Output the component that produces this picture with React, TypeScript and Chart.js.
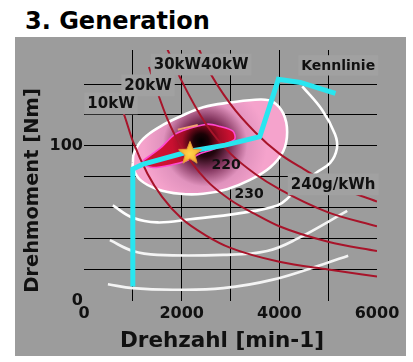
import { useEffect, useRef } from 'react';
import { Chart, registerables } from 'chart.js';

Chart.register(...registerables);

// ---------- data (speed n [min-1], torque T [Nm]) ----------
const xTickLabels = [0, 2000, 4000, 6000];
const yTickLabels = [0, 100];

// Kennlinie (operating line)
const kennN = [1000, 1000, 1200, 2170, 2890, 3600, 3980, 4430, 5150];
const kennT = [9, 85, 88, 96.5, 100.5, 106, 143, 141, 134];

// optimum point (star)
const optN = [2170];
const optT = [95.5];

// 220 g/kWh island
const isl220N = [1210, 1560, 1820, 2030, 2520, 2790, 3050, 3090, 2930, 2580, 2380, 2110, 1760, 1410, 1210, 1210];
const isl220T = [90.5, 98.5, 106.5, 110, 114, 112.5, 109.5, 104.5, 101.5, 97, 95, 90.5, 87.5, 86, 88, 90.5];

// orange edge on the 220 island
const edgeN = [1920, 2330];
const edgeT = [110.5, 113.5];

// 230 g/kWh island
const isl230N = [1000, 1025, 1210, 1560, 1970, 2440, 2990, 3610, 3870, 4080, 4160, 4080, 3810, 3400, 2930, 2440, 1970, 1500, 1150, 1000, 1000];
const isl230T = [89, 95.5, 104.5, 112.5, 119, 125, 128, 130, 128.5, 121, 109, 96.5, 86, 78, 72, 69, 69, 72, 78, 86, 89];

// 240 g/kWh contour
const c240N = [4470, 4880, 5140, 5180, 5040, 4730, 4220, 3960, 3200, 2170, 1500, 1000, 590];
const c240T = [138.5, 123, 107.5, 98.5, 89, 82, 67.5, 61.5, 56.5, 52.5, 50.5, 53.5, 61.5];

// further contours
const c250N = [530, 1000, 1500, 2850, 3750, 4370, 5390];
const c250T = [39, 32, 29.5, 29.5, 32, 40, 58];
const c260N = [490, 1000, 1820, 2850, 3870, 4900, 5410];
const c260T = [10.5, 8, 7, 8, 13.5, 23.5, 29];

// constant power lines
const p10N = [700, 800, 1000, 1300, 1600, 2000, 2500, 3000, 4000, 5000, 6000];
const p10T = [128, 122, 103, 82, 67, 53, 42, 34, 25, 20, 15.5];
const p20N = [1330, 1500, 1700, 2000, 2500, 3000, 3500, 4000, 5000, 6000];
const p20T = [151, 135, 118, 99, 78, 65, 56, 48, 38, 32];
const p30N = [1700, 2000, 2500, 3000, 3500, 4000, 5000, 6000];
const p30T = [163, 142, 114, 95, 82, 72, 57, 48];
const p40N = [2350, 2500, 3000, 3500, 4000, 4500, 5000, 6000];
const p40T = [163, 152, 127, 109, 95, 85, 76, 64];

// map labels: text, speed, torque, boxed
const mapLabelText = ['10kW', '20kW', '30kW40kW', 'Kennlinie', '220', '230', '240g/kWh'];
const mapLabelN = [553, 1311, 2398, 5205, 2910, 3381, 5102];
const mapLabelT = [127.7, 139.4, 152.9, 152.3, 88.3, 69.2, 75.4];
const mapLabelBox = [true, true, true, true, false, false, true];
const mapLabelSize = [15, 15, 15, 14, 14, 14, 15];

// ---------- styles ----------
const GRAY = '#9c9c9c';
const BOX = '#a1a1a1';
const RED = '#a8142a';
const CYAN = '#28e6f0';
const PINK = '#f5a3cc';
const CRIMSON = '#cf1232';
const FONT = '"DejaVu Sans", Verdana, sans-serif';
const TEXT = '#111';

const pts = (ns: number[], ts: number[]) => ns.map((n, i) => ({ x: n, y: ts[i] }));

function makeStar(): HTMLCanvasElement {
  const c = document.createElement('canvas');
  c.width = 26;
  c.height = 26;
  const g = c.getContext('2d')!;
  g.beginPath();
  for (let i = 0; i < 10; i++) {
    const r = i % 2 === 0 ? 12 : 5.2;
    const a = -Math.PI / 2 + (i * Math.PI) / 5;
    g.lineTo(13 + r * Math.cos(a), 13.5 + r * Math.sin(a));
  }
  g.closePath();
  const grad = g.createRadialGradient(13, 14, 1, 13, 13, 12);
  grad.addColorStop(0, '#ffd24a');
  grad.addColorStop(1, '#f3a326');
  g.fillStyle = grad;
  g.fill();
  g.strokeStyle = '#e59a3a';
  g.lineWidth = 1;
  g.stroke();
  return c;
}

function radial(c: any, fallback: string, n: number, t: number, r: number, stops: [number, string][]) {
  const ch = c.chart;
  const xs = ch.scales && ch.scales.x;
  const ys = ch.scales && ch.scales.y;
  if (!ch.chartArea || !xs || !ys) return fallback;
  const cx = xs.getPixelForValue(n);
  const cy = ys.getPixelForValue(t);
  const g = ch.ctx.createRadialGradient(cx, cy, 0, cx, cy, r);
  stops.forEach(([o, col]) => g.addColorStop(o, col));
  return g;
}

const labelPlugin = {
  id: 'mapLabels',
  afterDatasetsDraw(chart: any) {
    const { ctx, scales } = chart;
    const xs = scales.x;
    const ys = scales.y;
    ctx.save();
    mapLabelText.forEach((text, i) => {
      const px = xs.getPixelForValue(mapLabelN[i]);
      const py = ys.getPixelForValue(mapLabelT[i]);
      const size = mapLabelSize[i];
      ctx.font = `bold ${size}px ${FONT}`;
      const w = ctx.measureText(text).width;
      if (mapLabelBox[i]) {
        ctx.fillStyle = BOX;
        ctx.fillRect(px - w / 2 - 3, py - size * 0.7, w + 6, size * 1.45);
      }
      ctx.fillStyle = TEXT;
      ctx.textAlign = 'center';
      ctx.textBaseline = 'middle';
      ctx.fillText(text, px, py + 1);
    });
    ctx.restore();
  },
  afterDraw(chart: any) {
    const { ctx, chartArea } = chart;
    ctx.save();
    ctx.fillStyle = TEXT;
    ctx.textAlign = 'center';
    ctx.textBaseline = 'middle';
    ctx.font = `bold 21.5px ${FONT}`;
    ctx.fillText('Drehzahl [min-1]', chartArea.left + 138, chart.height - 15);
    ctx.translate(18, chartArea.bottom - 110);
    ctx.rotate(-Math.PI / 2);
    ctx.font = `bold 19.5px ${FONT}`;
    ctx.fillText('Drehmoment [Nm]', 0, 0);
    ctx.restore();
  },
};

export default function App() {
  const ref = useRef<HTMLCanvasElement>(null);
  useEffect(() => {
    const star = makeStar();
    const line = (ns: number[], ts: number[], color: string, width: number, order: number, extra: any = {}) => ({
      data: pts(ns, ts),
      borderColor: color,
      borderWidth: width,
      pointRadius: 0,
      fill: false,
      order,
      ...extra,
    });
    const chart = new Chart(ref.current!, {
      type: 'line',
      data: {
        datasets: [
          {
            data: pts(optN, optT),
            showLine: false,
            pointStyle: star,
            pointRadius: 12,
            order: 0,
          } as any,
          line(kennN, kennT, CYAN, 5, 1, { tension: 0, borderJoinStyle: 'miter' }),
          line(p10N, p10T, RED, 2, 2, { cubicInterpolationMode: 'monotone' }),
          line(p20N, p20T, RED, 2, 2, { cubicInterpolationMode: 'monotone' }),
          line(p30N, p30T, RED, 2, 2, { cubicInterpolationMode: 'monotone' }),
          line(p40N, p40T, RED, 2, 2, { cubicInterpolationMode: 'monotone' }),
          line(c240N, c240T, '#ffffff', 2.6, 3, { tension: 0.4 }),
          line(c250N, c250T, '#f4f4f4', 2.6, 3, { tension: 0.4 }),
          line(c260N, c260T, '#f4f4f4', 2.6, 3, { tension: 0.4 }),
          line(edgeN, edgeT, '#f2a070', 2, 4, { tension: 0 }),
          line(isl220N, isl220T, '#ff48d0', 1.6, 5, {
            tension: 0.3,
            fill: 'shape',
            backgroundColor: (c: any) =>
              radial(c, CRIMSON, 2400, 103, 42, [
                [0, '#000000'],
                [0.18, '#1c0206'],
                [0.45, '#a00c26'],
                [0.7, '#c81030'],
                [1, CRIMSON],
              ]),
          }),
          line(isl230N, isl230T, '#ffffff', 2.6, 6, {
            tension: 0.4,
            fill: 'shape',
            backgroundColor: (c: any) =>
              radial(c, PINK, 2480, 101, 62, [
                [0, '#000000'],
                [0.2, '#24060f'],
                [0.42, '#84365f'],
                [0.68, '#e092bd'],
                [1, PINK],
              ]),
          }),
        ],
      },
      options: {
        animation: false,
        responsive: true,
        maintainAspectRatio: false,
        devicePixelRatio: 1,
        events: [],
        layout: { padding: { left: 0, right: 29, top: 0, bottom: 0 } },
        plugins: {
          legend: { display: false },
          tooltip: { enabled: false },
          title: { display: false },
        },
        scales: {
          x: {
            type: 'linear',
            min: 0,
            max: 6000,
            border: { display: false },
            grid: {
              color: (c: any) => (c.tick && c.tick.value > 0 && c.tick.value < 6000 ? '#000' : 'rgba(0,0,0,0)'),
              lineWidth: 1,
              drawTicks: false,
            },
            ticks: {
              stepSize: 1000,
              autoSkip: false,
              maxRotation: 0,
              padding: 4,
              color: TEXT,
              font: { family: FONT, weight: 'bold', size: 16 },
              callback: (v: any) => (xTickLabels.includes(Number(v)) ? String(v) : ''),
            },
            afterFit: (s: any) => {
              s.height = 55.5;
            },
          },
          y: {
            type: 'linear',
            min: 0,
            max: 162,
            border: { display: false },
            grid: {
              color: (c: any) => (c.tick && c.tick.value > 0 && c.tick.value % 20 === 0 ? '#000' : 'rgba(0,0,0,0)'),
              lineWidth: 1,
              drawTicks: false,
            },
            ticks: {
              stepSize: 20,
              autoSkip: false,
              padding: 1,
              color: TEXT,
              font: { family: FONT, weight: 'bold', size: 16 },
              callback: (v: any) => (yTickLabels.includes(Number(v)) ? String(v) : ''),
            },
            afterFit: (s: any) => {
              s.width = 69;
              s.paddingTop = 0;
              s.paddingBottom = 0;
            },
          },
        },
      } as any,
      plugins: [labelPlugin],
    });
    return () => chart.destroy();
  }, []);

  return (
    <div style={{ position: 'absolute', left: 0, top: 0, width: 413, height: 362, background: '#fff' }}>
      <div
        style={{
          position: 'absolute',
          left: 25,
          top: 7,
          font: `bold 24px ${FONT}`,
          lineHeight: '28px',
          color: '#000',
          whiteSpace: 'nowrap',
        }}
      >
        3. Generation
      </div>
      <div style={{ position: 'absolute', left: 15, top: 37, width: 391, height: 319, background: GRAY }}>
        <canvas ref={ref} />
      </div>
    </div>
  );
}
